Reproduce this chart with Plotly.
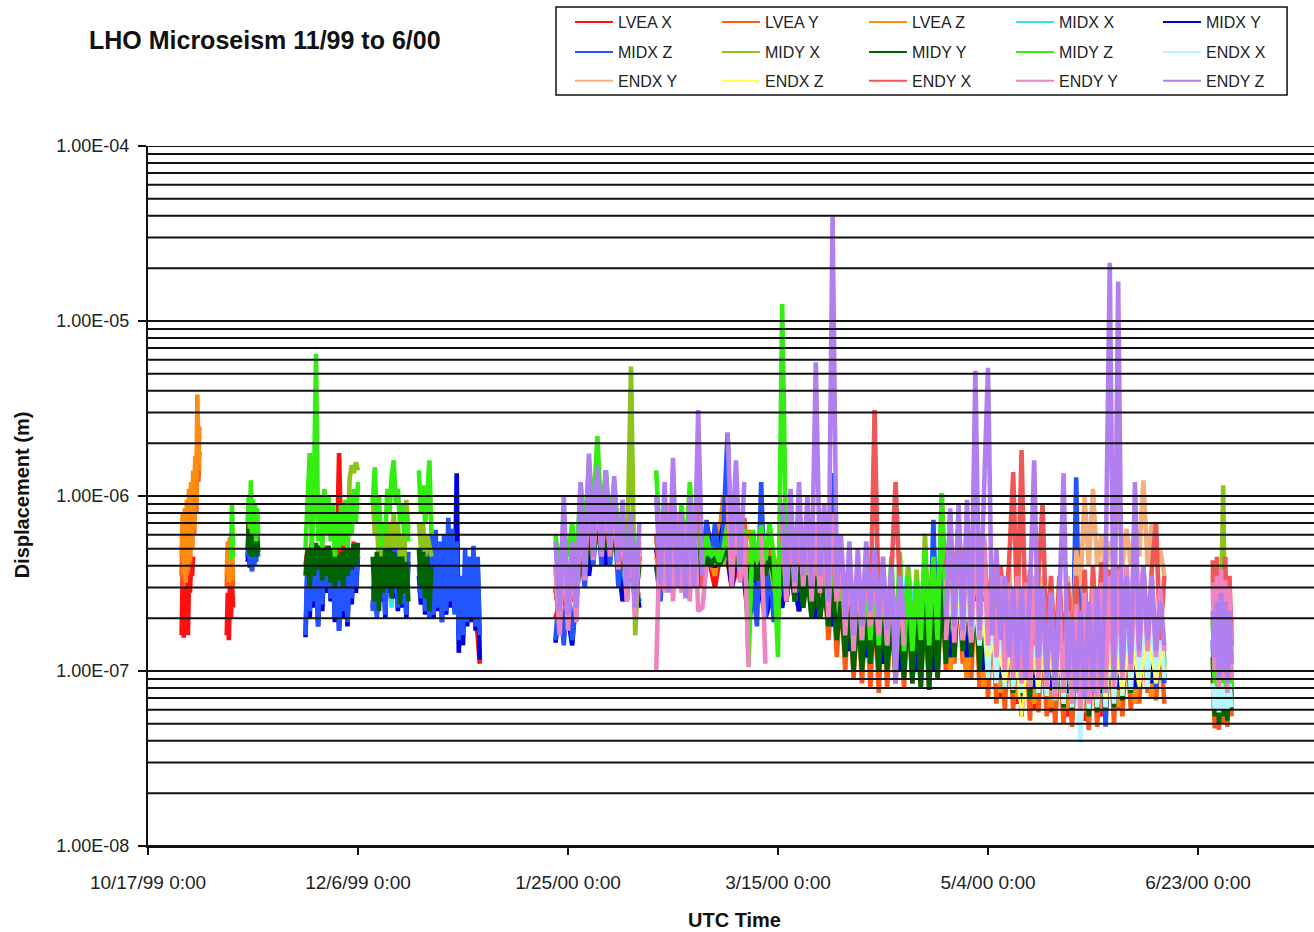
import pandas as pd
import plotly.graph_objects as go

UNIT = 1e-7  # every value below is a displacement in units of 1e-7 m

# Each series: list of (start time, sample step in hours)
LVEA_X = [
    ("1999-10-25 00:00", 6, [1.6, 3.5, 1.55, 3.8, 2.5, 3.5, 1.6, 3.3, 2.8, 4, 3.5, 4.5]),
    ("1999-11-04 18:00", 6, [1.6, 2.8, 1.5, 3, 2, 3.2, 2.3]),
    ("1999-11-09 18:00", 6, [4.5, 7.5, 4, 6, 4.3, 5]),
    ("1999-11-23 12:00", 12, [4, 5, 4.5, 5.5, 4, 5, 4.2, 5, 4.5, 5.2, 4, 5, 4.3, 5, 4, 5, 17.6, 5, 4.2, 5.5, 4.5, 5, 4.2, 5.5]),
    ("2000-01-03 00:00", 12, [1.9, 1.6, 1.1]),
    ("2000-01-22 00:00", 48, [2, 3, 2.5, 8.3, 4, 7, 4.5, 6, 3, 5, 2.5, None, 4, 3, 5, 5, 4.5, 3, 5, 3,
                              6, 3, 4.5, 2.5, 4, 2.5, 4, 2.5, 4, 2.2, 4, 2, 3.5, 1.8, 4.5, 1.3, 3, 1.2, 3, 1.1,
                              2.8, 1.0, 2.8, 1.0, 3, 1.1, 3, 1.0, 2.8, 0.9, 2.5, 0.8, 2.2, 0.7, 2, 0.65, 2, 0.6, 2, 0.58,
                              2, 0.55, 2, 0.52, 2.2, 0.55, 2.2, 0.6, 2.2, 0.65, 2.2, 0.7, 2]),
]
LVEA_Y = [
    ("1999-10-25 00:00", 6, [3.5, 6, 3, 7, 3.5, 8, 3.6, 9, 4, 10, 5, 12, 6, 15, 8, 20, 12, 18]),
    ("1999-11-04 18:00", 6, [3, 5, 3, 5.2, 3.2, 4.5, 3]),
    ("2000-01-22", 24, [3, 2, 3.5, 2.2, 3.5, 2.5, 6, 4, 8, 4.5, 8, 5, 7, 4.5, 7, 4, 5.5, 3, 5, 2.5, 4.5]),
    ("2000-02-15", 24, [5, 3, 6, 3.2, 6, 3, 5.5, 3, 6, 3, 5, 3, 4.5]),
    ("2000-02-28", 24, [5, 4.5, 5, 10, 6, 3.5, 5, 3.5, 7.5, 3, 5.5, 3.5, 5.5, 3, 5, 2.5, 2]),
    ("2000-03-16", 24, [5, 2.5, 5, 2.5, 5, 2.3, 4.5, 2, 4.5, 2, 4, 1.5, 3.5, 1.2, 3, 1.0, 2.8, 0.9, 2.5, 0.85,
                        2.5, 0.8, 2.5, 0.75, 2.5, 0.8, 2.5, 0.85, 2.8, 0.8]),
    ("2000-04-15", 24, [2.5, 0.85, 2.5, 0.8, 2.8, 0.78, 3, 0.9, 3.2]),
    ("2000-04-24", 24, [1.0, 3.5, 1.1, 3.5, 1.1, 3, 0.9, 3, 0.8, 2.5, 0.7, 2.2, 0.65, 2, 0.6, 1.8, 0.6, 1.8, 0.55, 1.6,
                        0.52, 1.6, 0.58, 1.5, 0.55, 1.5, 0.5]),
    ("2000-05-21", 24, [1.4, 0.5, 1.3, 0.48, 1.3, 0.46, 1.4, 0.46, 1.4, 0.48, 1.5, 0.5, 1.6, 0.5, 1.6, 0.55, 1.6, 0.6, 1.7, 0.65,
                        1.8, 0.75, 1.8, 0.68, 1.5, 0.65]),
    ("2000-06-26 12:00", 12, [0.9, 0.47, 1.0, 0.46, 0.9, 0.5, 0.9, 0.48, 1.0, 0.55]),
]
LVEA_Z = [
    ("1999-10-25 00:00", 6, [4.5, 8, 3.6, 8.5, 3.2, 9.5, 3.8, 11, 4.2, 12, 5, 14, 6.5, 17, 9, 38, 14, 25]),
    ("1999-11-04 18:00", 6, [3.5, 5.5, 3.2, 5.8, 3.4, 5, 3.3]),
    ("2000-01-22 00:00", 48, [3, 2.5, 4, 4.5, 5, 6, 5, 6, 3, 4.5, 2.5, None, 4.5, 3, 5, 3.5, 5, 3, 5, 3.5,
                              10, 3.5, 4.5, 6.4, 4, 3, 4.5, 3, 4.5, 2.5, 4.5, 2.5, 8, 2, 3.5, 1.4, 3, 1.2, 2.8, 1.1,
                              2.5, 1.0, 2.5, 1.0, 3, 1.1, 3, 1.0, 2.8, 0.9, 2.5, 0.8, 2.2, 0.75, 2, 0.7, 2, 0.65, 2.2, 0.62,
                              2.2, 0.6, 2.2, 0.58, 2.2, 0.6, 2.2, 0.62, 2.2, 0.65, 2.2, 0.7, 2]),
]
MIDX_X = [
    ("1999-11-09 18:00", 6, [7, 9.5, 6.5, 8.5, 6]),
    ("1999-12-03 00:00", 12, [2.8, 3.5, 2.6, 3.2]),
    ("1999-12-09 12:00", 12, [3, 2.5, 3.5, 2.6, 3.5, 2.5, 4, 3, 4, 2.3, 4, 3, 3.5, 2.8, 3.5, 2.8, 3.5, 3, None, None,
                              None, None, 3, 2.6, 3.5, 2.4, 4, 2.5, 4, 2.4, 4, 2.5, 3.5, 2.3, 4, 2.4, 4.5, 2.6, 4, 2.4,
                              4, 2.2, 3, 2.2, 3.5, 2.3, 3.5, 2.2, 3.5, 2.1, 3, 2.0]),
    ("2000-01-22 00:00", 48, [3.6, 2.5, 3.6, 5, 4, 8, 5, 6, 3, 4, 2.5, None, 4, 3, 5, 3.5, 5, 3, 6, 4,
                              6, 3.5, 5, 2.5, 4, 2.5, 3.5, 2.5, 4.5, 2.5, 4.5, 2.5, 4, 2, 3.5, 1.5, 3, 1.4, 3, 1.3,
                              3, 1.2, 4, 1.2, 4.3, 1.3, 3.5, 1.4, 3, 1.3, 3, 1.1, 2.5, 1.0, 2.5, 0.9, 2.2, 0.85, 2.2, 0.8,
                              2.5, 0.8, 4.3, 0.75, 3, 0.75, 2.5, 0.8, 2.5, 0.85, 2.5, 0.9, 2.5]),
]
MIDX_Y = [
    ("1999-11-09 18:00", 6, [4.2, 5.5, 3.9, 6, 3.8, 5, 4, 4.8]),
    ("1999-11-23 12:00", 12, [1.56, 4, 2, 4, 2.3, 3.8, 1.8, 4, 2.2, 4.5, 2.8, 3.8, 2.5, 4, 1.9, 3.5, 1.7, 3.8, 2, 4,
                              1.8, 4, 2.4, 4.2, 2.8, 4.5]),
    ("1999-12-09 12:00", 12, [2.3, 3.5, 2.1, 4, 2.5, 4.5, 2, 4.5, 2.8, 5, 2.6, 4.5, 2.2, 4, 2.3, 4.5, 2, 4.2, None, None,
                              None, None, 3.5, 2.4, 4.5, 2.1, 5, 2, 5.5, 2, 5.5, 2.2, 5, 1.9, 5.5, 2.1, 5, 2.3, 6, 2.2,
                              13.5, 1.27, 3, 1.4, 4, 1.8, 4, 1.9, 4.5, 1.7, 4, 1.16]),
    ("2000-01-22 00:00", 48, [1.45, 3, 1.4, 6, 3.5, 9, 4, 7, 2.5, 5, 2.3, None, 5, 3, 6, 3.5, 6, 3, 7, 3.9,
                              7, 3, 6, 1.8, 4, 2, 3, 2.3, 5, 2.2, 5, 2, 4.5, 1.8, 3.5, 1.3, 3, 1.2, 3, 1.1,
                              3, 1.0, 3, 1.0, 3.5, 1.0, 4, 1.2, 3.5, 1.2, 3, 1.0, 2.5, 0.9, 2.5, 0.85, 2.2, 0.8, 2, 0.78,
                              2, 0.75, 2, 0.75, 2.2, 0.75, 2.5, 0.78, 2.5, 0.8, 2.5, 0.85, 2.2]),
]
MIDX_Z = [
    ("1999-11-09 18:00", 6, [4.5, 6, 4, 6.5, 3.7, 5.5, 4, 5, 4.2, 5.2, 4.5]),
    ("1999-11-23 12:00", 12, [1.6, 5, 2.2, 4.5, 2.5, 4, 1.8, 4.5, 2.4, 5, 3, 4, 2.6, 4.5, 2.0, 3.8, 1.7, 4, 2.2, 4.5,
                              1.9, 4.2, 2.6, 4.5, 3, 5]),
    ("1999-12-09 12:00", 12, [2.2, 4, 2.0, 4.5, 2.6, 5, 2.1, 5, 3, 5.5, 2.8, 5, 2.3, 4.5, 2.4, 5, 2.1, 4.8, None, None,
                              None, None, 4, 2.6, 5, 2.2, 5.5, 2.0, 6, 2.1, 6.4, 2.3, 5.5, 1.9, 6, 2.2, 7.5, 2.5, 6.5, 2.1,
                              5.5, 1.5, 3.5, 1.6, 5, 1.9, 4.5, 2.0, 5.2, 1.8, 4.5, 1.6]),
    ("2000-01-22", 24, [1.5, 3, 1.4, 3.5, 1.5, 2.5, 5, 3, 8, 4, 8, 4, 14, 4, 8, 3, 6, 2.5, 5, 2.2, 4.5]),
    ("2000-02-15", 24, [4, 2.5, 5, 3, 5, 3, 4.5, 2.7, 7, 3.3, 6, 3.5, 7.3]),
    ("2000-02-28", 24, [3.9, 7, 4, 6.5, 23, 3.5, 6, 3.3, 5, 2.2, 3.2, 1.8, 12, 2.0, 4.5, 1.9, 3]),
    ("2000-03-16", 24, [8.5, 2.5, 5, 2.5, 6, 2.5, 5.5, 2.2, 5, 2.2, 5, 2, 13.5, 2, 4.5, 1.5, 4, 1.3, 3.5, 1.2,
                        3.5, 1.3, 4, 1.2, 3.5, 1.1, 3, 1.1, 3, 1.0]),
    ("2000-04-15", 24, [3.5, 1.0, 3.5, 1.0, 3.5, 1.0, 7.3, 1.0, 4]),
    ("2000-04-24", 24, [1.2, 4, 1.3, 4, 1.4, 3.5, 1.3, 3.5, 1.2, 3, 1.0, 2.5, 0.9, 2.5, 0.85, 2.5, 0.85, 2.5, 0.8, 2.2,
                        0.8, 2.5, 0.8, 2.2, 0.8, 2, 0.8]),
    ("2000-05-21", 24, [2, 0.75, 2, 0.72, 12.8, 0.72, 2, 0.7, 2, 0.72, 2.2, 0.48, 2.5, 0.72, 2.5, 0.75, 2.5, 0.78, 2.5, 0.8,
                        2.5, 0.85, 2.5, 0.8, 2.2, 0.85]),
    ("2000-06-26 12:00", 12, [1.5, 0.7, 2, 0.65, 1.8, 0.7, 1.7, 0.65, 1.6, 0.7]),
]
MIDY_X = [
    ("1999-12-03 12:00", 12, [5, 12.5, 15, 13.5, 15.6, 14]),
    ("1999-12-09 12:00", 12, [10, 6, 7, 4, 5, 4, 6, 5, 7, 5, 8, 5, 7, 4.5, 6, 4, 9.5, 6.4, None, None,
                              None, None, 7, 5, 7, 4.5, 6, 5, 4.5]),
    ("2000-01-22", 24, [4, 2.5, 4.5, 3, 5, 3, 8, 4.5, 10, 5, 12, 5, 9, 5, 8, 4.5, 6, 3.5, 55, 1.6, 5]),
    ("2000-02-15", 24, [6, 3.5, 7, 3.5, 7, 3.5, 7, 3.5, 7, 3.5, 6, 3.5, 5]),
    ("2000-02-28", 24, [5, 4, 5, 4, 6, 3.5, 5.5, 3.5, 6.4, 3.5, 6, 3.8, 5, 3.5, 4.5, 3, 2.5]),
    ("2000-03-16", 24, [4.5, 2.5, 4.5, 2.5, 4.5, 2.5, 4.5, 2.2, 4, 2, 4, 1.8, 3.5, 1.6, 3, 1.4, 3, 1.3, 3, 1.3,
                        3, 1.3, 3, 1.3, 3, 1.2, 3, 1.2, 3.5, 1.3]),
    ("2000-04-15", 24, [3.9, 1.3, 3.8, 1.4, 6.1, 1.5, 3.9, 1.6, 10.4]),
    ("2000-04-24", 24, [2.5, 4, 2, 4.5, 2, 4, 2, 3.5, 1.8, 3, 1.5, 3, 1.3, 3, 1.2, 2.8, 1.1, 2.8, 1.0, 2.5,
                        1.0, 2.5, 1.0, 2.5, 0.95, 2.2, 0.9, 2.2, 0.85, 2.2, 0.8, 2.5, 0.8, 2.5, 0.85, 2.5, 0.85, 2.8, 0.9, 2.8,
                        0.95, 2.8, 1.0, 3, 1.0, 3, 1.1, 2.8, 1.0, 2.5, 1.1, 2.5, 1.0]),
    ("2000-06-26 12:00", 12, [2, 1, 2.5, 0.9, 2.2, 11.5, 1, 2.2, 0.9, 2]),
]
MIDY_Y = [
    ("1999-11-09 18:00", 6, [5, 7, 4.6, 7.5, 4.5, 6.5, 4.8, 6.8, 4.5, 6, 4.8]),
    ("1999-11-23 12:00", 12, [3.5, 5, 3, 5.2, 3.5, 5.4, 3.8, 5.2, 3.3, 5, 3.5, 5.2, 3.2, 4.8, 3, 4.6, 3.3, 4.8, 3, 5,
                              3.5, 5, 3.8, 5.3, 4, 5.4]),
    ("1999-12-09 12:00", 12, [4.5, 2.5, 4.8, 2.2, 4.5, 2.8, 5, 3, 5, 2.6, 4.8, 3, 4.5, 2.4, 4.5, 2.8, 4.2, 2.5, None, None,
                              None, None, 5, 3, 4.8, 2.6, 4.5, 2.2, 4]),
    ("2000-01-22", 24, [3, 2, 3.5, 2.2, 4, 2.5, 5, 3.5, 6, 4.5, 7, 4.8, 6, 4.5, 6, 4, 5, 3, 4.5, 2.5, 4]),
    ("2000-02-15", 24, [4, 3, 5, 3.5, 5.5, 3.8, 6, 4, 6, 3.5, 5, 3, 4.5]),
    ("2000-02-28", 24, [4, 4.5, 4, 4.5, 5, 3.5, 5, 3.5, 4.5, 3.3, 4.3, 3.3, 4.3, 3.5, 4.5, 3.5, 2.5]),
    ("2000-03-16", 24, [4, 2.5, 4, 2.5, 4, 2.3, 3.5, 2, 3.5, 2, 3, 1.8, 3, 1.5, 2.5, 1.2, 2.5, 1.0, 2.2, 1.0,
                        2, 1.1, 2, 1.0, 2, 1.0, 2, 0.95, 2.2, 0.9]),
    ("2000-04-15", 24, [2.4, 0.85, 2.5, 0.8, 2.5, 0.78, 2.8, 0.9, 3]),
    ("2000-04-24", 24, [1.1, 3.5, 1.2, 3.8, 1.3, 3.5, 1.2, 3, 1.0, 2.8, 0.9, 2.5, 0.85, 2.2, 0.8, 2, 0.75, 2, 0.72, 2,
                        0.7, 2, 0.75, 1.8, 0.72, 1.8, 0.68]),
    ("2000-05-21", 24, [1.6, 0.62, 1.5, 0.6, 1.5, 0.58, 1.6, 0.55, 1.6, 0.58, 1.8, 0.6, 2, 0.62, 2, 0.68, 2, 0.75, 2, 0.8,
                        2, 0.9, 2, 0.85, 1.8, 0.9]),
    ("2000-06-26 12:00", 12, [1.2, 0.55, 1.3, 0.5, 1.2, 0.55, 1.1, 0.52, 1.2, 0.6]),
]
MIDY_Z = [
    ("1999-11-05 18:00", 6, [4.3, 9.1, 4.5]),
    ("1999-11-09 18:00", 6, [7, 10, 6.5, 12.3, 6, 9.5, 6.2, 9, 5.5, 8.5, 6]),
    ("1999-11-23 12:00", 12, [5, 9, 17.6, 5, 10, 65, 5.5, 10, 5, 11, 6, 10, 5.5, 9, 4.5, 8, 5, 9, 5.2, 9.5,
                              5, 10, 6, 11, 7, 12]),
    ("1999-12-09 12:00", 12, [9, 14.6, 7, 10, 5, 7, 6, 11, 8, 13, 16, 9, 11, 7, 9, 6, 8, 5.5, None, None,
                              None, None, 14, 8, 11.5, 7, 10, 16, 6]),
    ("2000-01-22", 24, [6, 4, 6.5, 4.5, 7, 4, 12, 6, 16, 8, 22, 7, 14, 7, 12, 6, 7.5, 4.5, 7, 4, 6]),
    ("2000-02-15", 24, [14, 5, 8, 4.5, 8.5, 4, 9, 4.5, 12, 4.5, 8, 4, 6]),
    ("2000-02-28", 24, [4.5, 5, 4.2, 5, 7, 4, 6, 4, 6.5, 1.1, 6.4, 4.2, 6.8, 4.3, 7, 4.5, 1.2]),
    ("2000-03-16", 24, [125, 4, 6, 3.5, 6.5, 3.5, 6, 3, 5.5, 3, 5.5, 2.8, 5, 2.5, 4.5, 2, 4, 1.8, 3.5, 1.5,
                        3.5, 1.5, 4, 1.4, 4, 1.4, 4.5, 1.3, 4.8, 1.3]),
    ("2000-04-15", 24, [3.5, 1.3, 3.3, 1.5, 4.9, 1.4, 4.5, 1.5, 10.4]),
    ("2000-04-24", 24, [2, 8, 2, 7, 2.2, 6, 2.5, 5, 2, 5, 1.5, 4, 1.2, 3.5, 1.0, 3, 0.9, 3, 0.85, 2.8,
                        0.8, 3, 0.85, 2.5, 0.8, 2.5, 0.75]),
    ("2000-05-21", 24, [2.2, 0.7, 2, 0.7, 2.2, 0.65, 2.5, 0.65, 2.5, 0.65, 2.8, 0.7, 3, 0.7, 3, 0.75, 3, 0.85, 3, 1.0,
                        3, 1.1, 3, 1.0, 2.5, 1.1]),
    ("2000-06-26 12:00", 12, [2, 0.8, 2.2, 0.7, 2, 0.75, 2, 0.7, 1.8, 0.8]),
]
ENDX_X = [
    ("2000-04-24", 24, [1.6, 3, 1.6, 3, 1.5, 3, 1.5, 2.5, 1.4, 2.5, 0.9, 2.2, 0.85, 2, 0.8, 2, 0.78, 2, 0.75, 2,
                        0.8, 1.8, 0.75, 1.8, 0.72, 1.8, 0.68, 1.6, 0.65, 1.6, 0.62, 1.6, 0.39, 1.6, 0.6, 1.8, 0.62, 1.8, 0.62, 2,
                        0.65, 2, 0.72, 2, 0.78, 2, 0.85, 2.2, 0.8, 2.2, 0.85, 2, 0.9]),
    ("2000-06-26 12:00", 12, [0.85, 0.6, 0.8, 0.58, 0.85, 0.6, 0.8, 0.6, 0.85, 0.62]),
]
ENDX_Y = [
    ("2000-04-24", 24, [3, 5, 2.5, 5, 2.5, 5, 2.5, 14.7, 2, 4.5, 1.8, 4, 1.5, 4, 1.5, 4, 1.4, 4, 1.3, 3.5,
                        1.2, 3.5, 1.2, 3.5, 1.1, 3, 1.0]),
    ("2000-05-21", 24, [3, 1.0, 3.5, 1.0, 4.9, 3, 10, 4, 11, 4, 6, 3.5, 5.5, 4, 11.8, 4, 6.5, 4, 7, 4.5,
                        12.3, 4, 7, 4, 5, 3.5]),
    ("2000-06-26 12:00", 12, [3.5, 1.5, 2.5, 1.2, 2.5, 1.3, 2.2, 1.1, 2.5, 1.2]),
]
ENDX_Z = [
    ("2000-04-24", 48, [2.5, 2.2, 2.6, 2.1, 2.4, 1.2, 1.5, 0.85, 1.5, 0.55, 1.5, 0.8, 1.5, 0.78, 1.5, 0.75, 1.5, 0.72,
                        1.6, 0.7, 1.6, 0.75, 1.6, 0.8, 1.6, 0.85, 1.5]),
]
ENDY_X = [
    ("2000-01-22", 24, [3, 2, 4, 2, 4, 2.5, 8, 4, 10, 5, 9, 5, 8, 5, 8, 4, 6, 3, 5, 2.5, 5]),
    ("2000-02-15", 24, [6, 3, 7, 3, 8, 3, 6, 3, 8, 3, 19, 3, 4]),
    ("2000-03-03", 24, [8, 4, 7, 4, 6]),
    ("2000-03-16", 24, [6, 3, 7, 3, 7, 3.5, 7, 3, 6, 3, 6, 2.5, 6, 2.5, 4.5, 2, 4, 1.8, 4, 2,
                        4.5, 2, 31, 2, 4, 1.8, 3.5, 12, 3, 1.6]),
    ("2000-04-24", 24, [4, 6, 3, 7, 3, 6, 3, 5.5, 2.5, 6, 2, 4, 1.8, 4, 2, 4, 13.7, 2, 18.3, 1.5,
                        3.8, 1.4, 3.5, 9.1, 1.3, 3.5, 1.2]),
    ("2000-05-21", 24, [3.5, 1.2, 3.2, 1.0, 3.5, 1.1, 3.8, 1.0, 4, 1.2, 4.2, 1.2, 3.8, 1.3, 4, 1.3, 3.8, 1.5, 3.5, 1.6,
                        4, 1.5, 3.8, 7.1, 1.5, 3.5]),
    ("2000-06-26 12:00", 12, [4.3, 1.5, 4.5, 1.2, 3.8, 1.3, 4.5, 1.1, 3.5, 1.4]),
]
ENDY_Y = [
    ("2000-01-22", 24, [4, 1.6, 5, 1.7, 4.5, 1.9, 9, 3.3, 12, 4.3, 11, 4.5, 10, 4.5, 9, 3.8, 7, 2.5, 6, 2.0, 5.5]),
    ("2000-02-15", 24, [1.0, 8, 2.8, 9, 2.5, 8, 2.8, 7, 2.5, 9, 2.2, 2.3, 4]),
    ("2000-03-03", 24, [10, 3, 8, 3.2, 6, 1.05]),
    ("2000-03-11", 24, [6, 1.1]),
    ("2000-03-16", 24, [7, 2.5, 8, 2.8, 9, 3, 8, 2.5, 7, 2.8, 7, 2, 8, 2.5, 5, 1.6, 4.5, 1.3, 4, 1.5,
                        4.5, 1.8, 4, 1.6, 3.5, 1.4, 3.5, 1.5, 3, 1.4]),
    ("2000-04-24", 24, [1.5, 7, 1.45, 8, 1.5, 7, 1.45, 6, 1.5, 6, 1.4, 4, 1.2, 3.5, 1.0, 3.2, 0.9, 3.5, 0.85, 3.2,
                        0.8, 3.5, 0.9, 3, 0.8, 2.8, 0.7]),
    ("2000-05-21", 24, [2.6, 0.75, 2.2, 0.65, 2.4, 0.6, 2.8, 0.65, 3, 0.7, 3.2, 0.75, 3.5, 0.8, 3.8, 0.9, 4, 1.0, 3.8, 1.2,
                        4, 1.3, 3.5, 1.2, 3, 1.3]),
    ("2000-06-26 12:00", 12, [3.2, 1.0, 3.5, 0.8, 3.8, 0.9, 3.3, 0.75, 3, 0.9]),
]
ENDY_Z = [
    ("2000-01-22", 24, [5.5, 2.2, 10, 2.1, 5.5, 2.3, 12, 3.5, 17.5, 4.5, 15, 4.8, 14, 5, 13, 4.2, 9.5, 3, 8, 2.3, 7]),
    ("2000-02-15", 24, [10, 3.2, 12, 2.8, 16.5, 3, 8, 2.6, 10, 3, 31, 3.5]),
    ("2000-03-03", 24, [23, 5, 16, 4, 12]),
    ("2000-03-16", 24, [9, 3, 11, 3.2, 12, 3.5, 10, 3, 58, 3.5, 9, 2.5, 394, 3, 6, 2, 5.5, 1.6, 5, 1.8,
                        5.5, 2.2, 5, 2, 4.5, 1.7, 4, 0.85, 3.5, 2]),
    ("2000-04-24", 24, [2, 8.5, 1.8, 9, 1.7, 9.5, 1.8, 52, 1.7, 8, 54, 1.6, 5, 1.5, 3.5, 1.2, 3, 1.0, 3, 0.9,
                        3, 16, 1.2, 3, 0.9, 2.8, 0.8]),
    ("2000-05-21", 24, [2.5, 13.5, 0.9, 2, 0.75, 2.2, 0.7, 2.5, 0.75, 3, 0.8, 3.5, 215, 0.9, 168, 1.0, 3.5, 1.1, 12, 1.3,
                        4, 1.5, 3.5, 1.3, 2.5, 1.4]),
    ("2000-06-26 12:00", 12, [2.2, 1.2, 2.5, 0.9, 2.8, 1.0, 2.5, 0.85, 2.2, 1.1]),
]

SERIES_NAMES = ["LVEA X", "LVEA Y", "LVEA Z", "MIDX X", "MIDX Y", "MIDX Z", "MIDY X", "MIDY Y",
                "MIDY Z", "ENDX X", "ENDX Y", "ENDX Z", "ENDY X", "ENDY Y", "ENDY Z"]
SERIES_DATA = [LVEA_X, LVEA_Y, LVEA_Z, MIDX_X, MIDX_Y, MIDX_Z, MIDY_X, MIDY_Y,
               MIDY_Z, ENDX_X, ENDX_Y, ENDX_Z, ENDY_X, ENDY_Y, ENDY_Z]
SERIES_COLORS = ["#ff1010", "#ff5a14", "#ff8c10", "#33e3ee", "#0000dd", "#2255ff", "#8cc41a", "#006400",
                 "#33ee11", "#b8f6ff", "#f4b07c", "#ffff55", "#f05858", "#ee84c0", "#b27ff0"]
SERIES_WIDTHS = [4.6, 4.6, 4.6, 4.6, 4.6, 4.6, 4.6, 4.6, 4.6, 4.6, 4.6, 2.5, 4.6, 4.6, 4.6]

X_TICK_VALUES = ["1999-10-17", "1999-12-06", "2000-01-25", "2000-03-15", "2000-05-04", "2000-06-23"]
X_TICK_LABELS = ["10/17/99 0:00", "12/6/99 0:00", "1/25/00 0:00", "3/15/00 0:00", "5/4/00 0:00", "6/23/00 0:00"]
Y_TICK_VALUES = [1e-8, 1e-7, 1e-6, 1e-5, 1e-4]
Y_TICK_LABELS = ["1.00E-08", "1.00E-07", "1.00E-06", "1.00E-05", "1.00E-04"]

FONT = "Liberation Sans, Arial, sans-serif"


def expand(chunks):
    xs, ys = [], []
    last_end = None
    for start, hours, vals in chunks:
        t0 = pd.Timestamp(start)
        step = pd.Timedelta(hours=hours)
        if last_end is not None and (t0 - last_end) > step * 1.5:
            xs.append(t0.strftime("%Y-%m-%d %H:%M"))
            ys.append(None)
        for k, v in enumerate(vals):
            xs.append((t0 + k * step).strftime("%Y-%m-%d %H:%M"))
            ys.append(None if v is None else v * UNIT)
        last_end = t0 + (len(vals) - 1) * step
    return xs, ys


fig = go.Figure()
legend_ids = ["legend", "legend2", "legend3"]
# data traces (drawn in legend order, ENDY Z on top)
for name, data, color, width in zip(SERIES_NAMES, SERIES_DATA, SERIES_COLORS, SERIES_WIDTHS):
    xs, ys = expand(data)
    fig.add_trace(go.Scatter(
        x=xs, y=ys, name=name, mode="lines", connectgaps=False, legendgroup=name,
        line=dict(color=color, width=width), showlegend=False, hoverinfo="skip",
    ))
# legend entries with thin sample lines, as in the original key
for idx, (name, color) in enumerate(zip(SERIES_NAMES, SERIES_COLORS)):
    fig.add_trace(go.Scatter(
        x=[None], y=[None], name=name, mode="lines", legendgroup=name,
        line=dict(color=color, width=2), legend=legend_ids[idx // 5], hoverinfo="skip",
    ))

# horizontal gridlines at every 1..9 x decade, drawn over the data as in the original
grid_shapes = []
for e in range(-8, -4):
    for k in range(1, 10):
        v = k * 10.0 ** e
        grid_shapes.append(dict(type="line", xref="paper", x0=0, x1=1, yref="y", y0=v, y1=v,
                                line=dict(color="#111", width=2), layer="above"))
grid_shapes.append(dict(type="line", xref="paper", x0=0, x1=1, yref="y", y0=1e-4, y1=1e-4,
                        line=dict(color="#111", width=2), layer="above"))
# legend frame
grid_shapes.append(dict(type="rect", xref="paper", yref="paper", x0=0.3499, x1=0.9769, y0=1.0729, y1=1.1986,
                        line=dict(color="#111", width=1.5), fillcolor="rgba(0,0,0,0)", layer="above"))

legend_common = dict(orientation="h", xanchor="left", yanchor="middle", x=0.3619,
                     bgcolor="rgba(0,0,0,0)", borderwidth=0,
                     font=dict(family=FONT, size=16, color="#222"),
                     itemwidth=38, entrywidth=94, entrywidthmode="pixels")

fig.update_layout(
    width=1314, height=932,
    margin=dict(l=148, r=0, t=146, b=86),
    paper_bgcolor="white", plot_bgcolor="white",
    font=dict(family=FONT, color="#222"),
    showlegend=True,
    legend=dict(**legend_common, y=1.177),
    legend2=dict(**legend_common, y=1.134),
    legend3=dict(**legend_common, y=1.093),
    xaxis=dict(
        type="date", range=["1999-10-17 00:00", "2000-07-20 15:00"],
        tickmode="array", tickvals=X_TICK_VALUES, ticktext=X_TICK_LABELS,
        showgrid=False, zeroline=False,
        showline=True, linecolor="#111", linewidth=2,
        ticks="outside", ticklen=7, tickwidth=1.5, tickcolor="#111",
        ticklabelstandoff=11,
        tickfont=dict(family=FONT, size=19, color="#222"),
    ),
    yaxis=dict(
        type="log", range=[-8, -4],
        tickmode="array", tickvals=Y_TICK_VALUES, ticktext=Y_TICK_LABELS,
        showgrid=False, zeroline=False,
        showline=True, linecolor="#111", linewidth=2,
        ticks="outside", ticklen=8, tickwidth=1.5, tickcolor="#111",
        ticklabelstandoff=5,
        tickfont=dict(family=FONT, size=18, color="#222"),
    ),
    shapes=grid_shapes,
    annotations=[
        dict(text="<b>LHO Microseism 11/99 to 6/00</b>", xref="paper", yref="paper",
             x=-0.0525, y=1.1514, xanchor="left", yanchor="middle", showarrow=False,
             font=dict(family=FONT, size=25, color="#111")),
        dict(text="<b>Displacement (m)</b>", xref="paper", yref="paper", textangle=-90,
             x=-0.108, y=0.501, xanchor="center", yanchor="middle", showarrow=False,
             font=dict(family=FONT, size=20, color="#111")),
        dict(text="<b>UTC Time</b>", xref="paper", yref="paper",
             x=0.5034, y=-0.1057, xanchor="center", yanchor="middle", showarrow=False,
             font=dict(family=FONT, size=20, color="#111")),
    ],
)

fig.write_html("out.html", config={"displayModeBar": False},
               post_script="document.body.style.margin='0px';")
